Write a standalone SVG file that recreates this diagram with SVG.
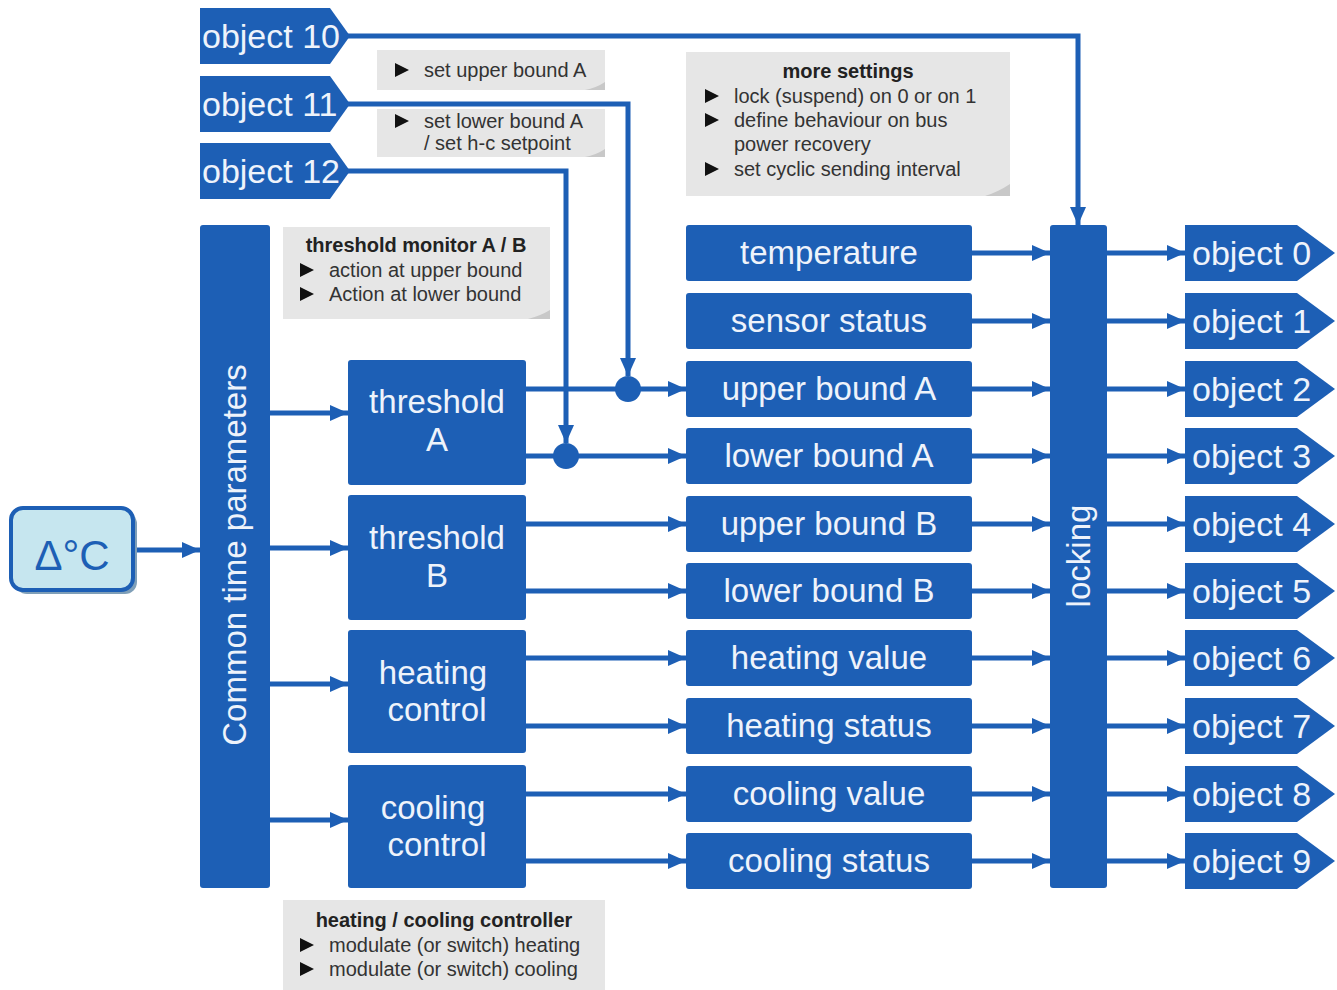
<svg xmlns="http://www.w3.org/2000/svg" width="1337" height="990" viewBox="0 0 1337 990">
<defs>
<marker id="ah" viewBox="0 0 18 16" refX="18" refY="8" markerWidth="18" markerHeight="16" markerUnits="userSpaceOnUse" orient="auto">
<path d="M0,0 L18,8 L0,16 z" fill="#1d5fb5"/>
</marker>
<style>
.blk{fill:#1d5fb5;}
.bt{font-family:"Liberation Sans",Arial,sans-serif;font-size:33px;fill:#eef3fb;text-anchor:middle;}
.ot{font-family:"Liberation Sans",Arial,sans-serif;font-size:34px;fill:#eef3fb;}
.co{fill:#e6e6e6;}
.fold{fill:#c8c8c8;}
.ct{font-family:"Liberation Sans",Arial,sans-serif;font-size:20px;fill:#333;}
.ch{font-family:"Liberation Sans",Arial,sans-serif;font-size:20px;fill:#222;font-weight:bold;text-anchor:middle;}
.bul{fill:#111;}
.cn{fill:none;stroke:#1d5fb5;stroke-width:5;}
.ar{marker-end:url(#ah);}
</style>
</defs>

<g id="callouts">
<g id="note-upper">
<rect class="co" x="377" y="50" width="228" height="40"/>
<path class="fold" d="M585,90 Q596,88 605,82 L605,90 z"/>
<path class="bul" d="M395,63 L409,70 L395,77 z"/>
<text class="ct" x="424" y="77">set upper bound A</text>
</g>
<g id="note-lower">
<rect class="co" x="377" y="109" width="228" height="48"/>
<path class="fold" d="M585,157 Q596,155 605,149 L605,157 z"/>
<path class="bul" d="M395,114 L409,121 L395,128 z"/>
<text class="ct" x="424" y="128" font-size="19">set lower bound A</text>
<text class="ct" x="424" y="150" font-size="19">/ set h-c setpoint</text>
</g>
<g id="note-more">
<rect class="co" x="686" y="52" width="324" height="144"/>
<path class="fold" d="M985,196 Q998,192 1010,184 L1010,196 z"/>
<text class="ch" x="848" y="78">more settings</text>
<path class="bul" d="M705,89 L719,96 L705,103 z"/>
<text class="ct" x="734" y="103">lock (suspend) on 0 or on 1</text>
<path class="bul" d="M705,113 L719,120 L705,127 z"/>
<text class="ct" x="734" y="127">define behaviour on bus</text>
<text class="ct" x="734" y="151">power recovery</text>
<path class="bul" d="M705,162 L719,169 L705,176 z"/>
<text class="ct" x="734" y="176">set cyclic sending interval</text>
</g>
<g id="note-threshold">
<rect class="co" x="283" y="227" width="267" height="92"/>
<path class="fold" d="M528,319 Q540,316 550,310 L550,319 z"/>
<text class="ch" x="416" y="252">threshold monitor A / B</text>
<path class="bul" d="M300,263 L314,270 L300,277 z"/>
<text class="ct" x="329" y="277">action at upper bound</text>
<path class="bul" d="M300,287 L314,294 L300,301 z"/>
<text class="ct" x="329" y="301">Action at lower bound</text>
</g>
<g id="note-hc">
<rect class="co" x="283" y="900" width="322" height="90"/>
<text class="ch" x="444" y="927">heating / cooling controller</text>
<path class="bul" d="M300,938 L314,945 L300,952 z"/>
<text class="ct" x="329" y="952">modulate (or switch) heating</text>
<path class="bul" d="M300,962 L314,969 L300,976 z"/>
<text class="ct" x="329" y="976">modulate (or switch) cooling</text>
</g>
</g>

<g id="connectors">
<path class="cn ar" d="M135,550 H200"/>
<path class="cn ar" d="M270,413 H348"/>
<path class="cn ar" d="M270,548 H348"/>
<path class="cn ar" d="M270,684 H348"/>
<path class="cn ar" d="M270,820 H348"/>
<path class="cn ar" d="M345,36 H1078 V225"/>
<path class="cn ar" d="M345,104 H628 V376"/>
<path class="cn ar" d="M345,171 H566 V443"/>
<path class="cn ar" d="M526,389 H686"/>
<path class="cn ar" d="M526,456 H686"/>
<path class="cn ar" d="M526,524 H686"/>
<path class="cn ar" d="M526,591 H686"/>
<path class="cn ar" d="M526,658 H686"/>
<path class="cn ar" d="M526,726 H686"/>
<path class="cn ar" d="M526,794 H686"/>
<path class="cn ar" d="M526,861 H686"/>
<circle cx="628" cy="389" r="13" fill="#1d5fb5"/>
<circle cx="566" cy="456" r="13" fill="#1d5fb5"/>
<path class="cn ar" d="M972,253 H1050"/>
<path class="cn ar" d="M972,321 H1050"/>
<path class="cn ar" d="M972,389 H1050"/>
<path class="cn ar" d="M972,456 H1050"/>
<path class="cn ar" d="M972,524 H1050"/>
<path class="cn ar" d="M972,591 H1050"/>
<path class="cn ar" d="M972,658 H1050"/>
<path class="cn ar" d="M972,726 H1050"/>
<path class="cn ar" d="M972,794 H1050"/>
<path class="cn ar" d="M972,861 H1050"/>
<path class="cn ar" d="M1107,253 H1185"/>
<path class="cn ar" d="M1107,321 H1185"/>
<path class="cn ar" d="M1107,389 H1185"/>
<path class="cn ar" d="M1107,456 H1185"/>
<path class="cn ar" d="M1107,524 H1185"/>
<path class="cn ar" d="M1107,591 H1185"/>
<path class="cn ar" d="M1107,658 H1185"/>
<path class="cn ar" d="M1107,726 H1185"/>
<path class="cn ar" d="M1107,794 H1185"/>
<path class="cn ar" d="M1107,861 H1185"/>
</g>

<g id="delta-c">
<rect x="15" y="512" width="122" height="82" rx="12" fill="#7f9fb8"/>
<rect x="11" y="508" width="122" height="82" rx="12" fill="#c6e6ef" stroke="#1d5fb5" stroke-width="4"/>
<text x="72" y="570" font-family="'Liberation Sans',Arial,sans-serif" font-size="42" fill="#1d5fb5" text-anchor="middle">Δ°C</text>
</g>

<g id="common-time">
<rect class="blk" x="200" y="225" width="70" height="663" rx="3"/>
<text class="bt" x="246" y="555" transform="rotate(-90 246 555)" font-size="32">Common time parameters</text>
</g>

<g id="threshold-a"><rect class="blk" x="348" y="360" width="178" height="125" rx="3"/><text class="bt" x="437" y="413">threshold</text><text class="bt" x="437" y="451">A</text></g>
<g id="threshold-b"><rect class="blk" x="348" y="495" width="178" height="125" rx="3"/><text class="bt" x="437" y="549">threshold</text><text class="bt" x="437" y="587">B</text></g>
<g id="heating-control"><rect class="blk" x="348" y="630" width="178" height="123" rx="3"/><text class="bt" x="433" y="684">heating</text><text class="bt" x="437" y="721">control</text></g>
<g id="cooling-control"><rect class="blk" x="348" y="765" width="178" height="123" rx="3"/><text class="bt" x="433" y="819">cooling</text><text class="bt" x="437" y="856">control</text></g>

<g id="temperature"><rect class="blk" x="686" y="225" width="286" height="56" rx="3"/><text class="bt" x="829" y="264">temperature</text></g>
<g id="sensor-status"><rect class="blk" x="686" y="293" width="286" height="56" rx="3"/><text class="bt" x="829" y="332">sensor status</text></g>
<g id="upper-bound-a"><rect class="blk" x="686" y="361" width="286" height="56" rx="3"/><text class="bt" x="829" y="400">upper bound A</text></g>
<g id="lower-bound-a"><rect class="blk" x="686" y="428" width="286" height="56" rx="3"/><text class="bt" x="829" y="467">lower bound A</text></g>
<g id="upper-bound-b"><rect class="blk" x="686" y="496" width="286" height="56" rx="3"/><text class="bt" x="829" y="535">upper bound B</text></g>
<g id="lower-bound-b"><rect class="blk" x="686" y="563" width="286" height="56" rx="3"/><text class="bt" x="829" y="602">lower bound B</text></g>
<g id="heating-value"><rect class="blk" x="686" y="630" width="286" height="56" rx="3"/><text class="bt" x="829" y="669">heating value</text></g>
<g id="heating-status"><rect class="blk" x="686" y="698" width="286" height="56" rx="3"/><text class="bt" x="829" y="737">heating status</text></g>
<g id="cooling-value"><rect class="blk" x="686" y="766" width="286" height="56" rx="3"/><text class="bt" x="829" y="805">cooling value</text></g>
<g id="cooling-status"><rect class="blk" x="686" y="833" width="286" height="56" rx="3"/><text class="bt" x="829" y="872">cooling status</text></g>

<g id="locking">
<rect class="blk" x="1050" y="225" width="57" height="663" rx="3"/>
<text class="bt" x="1090" y="556" transform="rotate(-90 1090 556)">locking</text>
</g>

<g id="object-10"><path class="blk" d="M200,8 H330 L350,36 L330,64 H200 z"/><text class="ot" x="202" y="48">object 10</text></g>
<g id="object-11"><path class="blk" d="M200,76 H330 L350,104 L330,132 H200 z"/><text class="ot" x="202" y="116">object 11</text></g>
<g id="object-12"><path class="blk" d="M200,143 H330 L350,171 L330,199 H200 z"/><text class="ot" x="202" y="183">object 12</text></g>

<g id="object-0"><path class="blk" d="M1185,225 H1297 L1335,253 L1297,281 H1185 z"/><text class="ot" x="1192" y="265">object 0</text></g>
<g id="object-1"><path class="blk" d="M1185,293 H1297 L1335,321 L1297,349 H1185 z"/><text class="ot" x="1192" y="333">object 1</text></g>
<g id="object-2"><path class="blk" d="M1185,361 H1297 L1335,389 L1297,417 H1185 z"/><text class="ot" x="1192" y="401">object 2</text></g>
<g id="object-3"><path class="blk" d="M1185,428 H1297 L1335,456 L1297,484 H1185 z"/><text class="ot" x="1192" y="468">object 3</text></g>
<g id="object-4"><path class="blk" d="M1185,496 H1297 L1335,524 L1297,552 H1185 z"/><text class="ot" x="1192" y="536">object 4</text></g>
<g id="object-5"><path class="blk" d="M1185,563 H1297 L1335,591 L1297,619 H1185 z"/><text class="ot" x="1192" y="603">object 5</text></g>
<g id="object-6"><path class="blk" d="M1185,630 H1297 L1335,658 L1297,686 H1185 z"/><text class="ot" x="1192" y="670">object 6</text></g>
<g id="object-7"><path class="blk" d="M1185,698 H1297 L1335,726 L1297,754 H1185 z"/><text class="ot" x="1192" y="738">object 7</text></g>
<g id="object-8"><path class="blk" d="M1185,766 H1297 L1335,794 L1297,822 H1185 z"/><text class="ot" x="1192" y="806">object 8</text></g>
<g id="object-9"><path class="blk" d="M1185,833 H1297 L1335,861 L1297,889 H1185 z"/><text class="ot" x="1192" y="873">object 9</text></g>
</svg>
